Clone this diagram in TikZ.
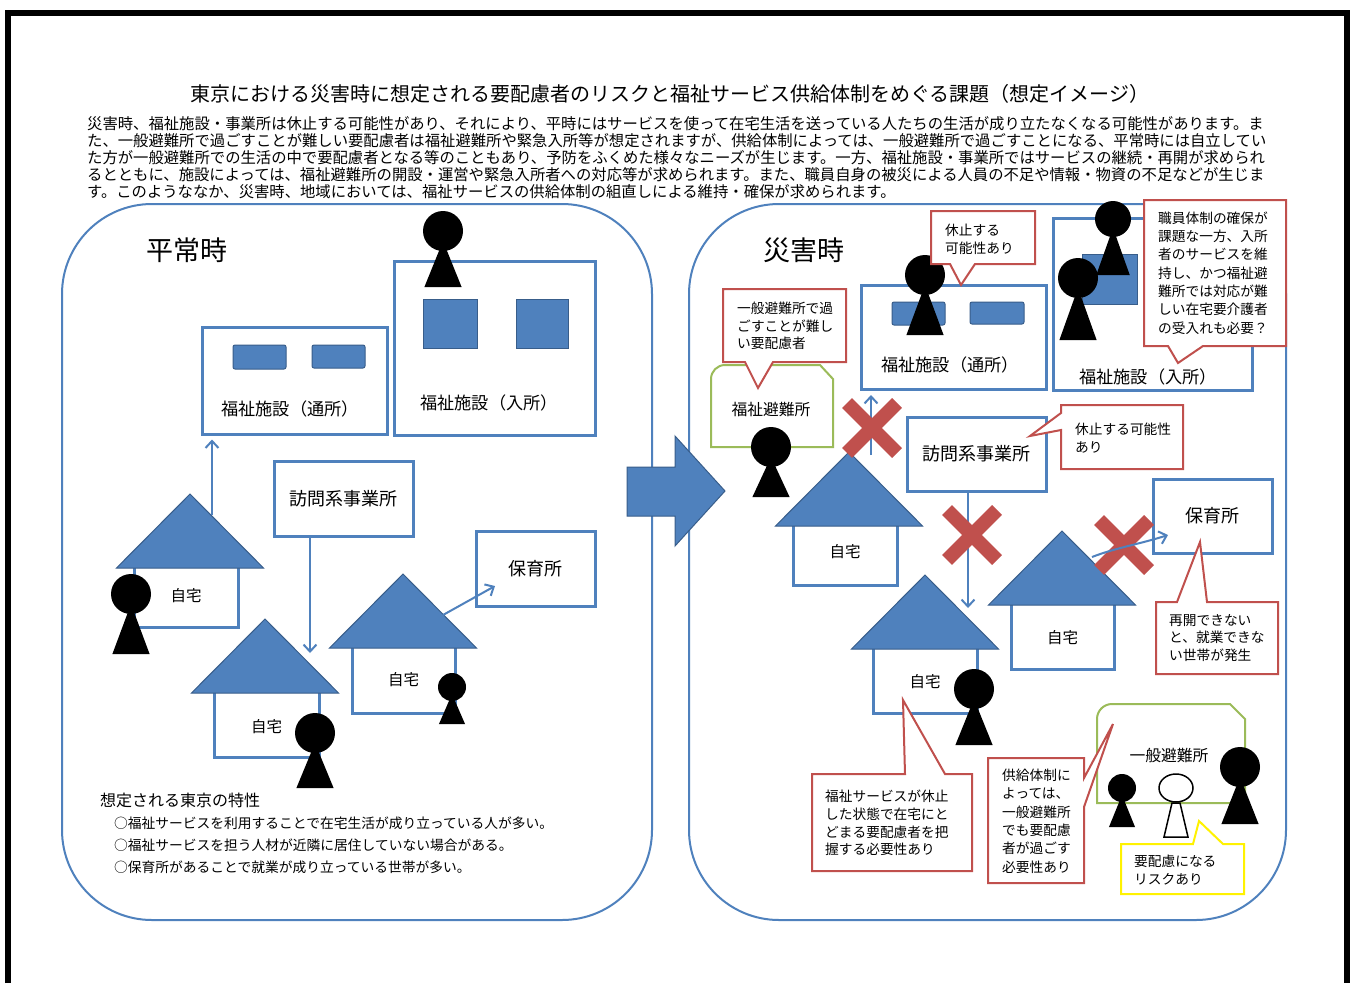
\documentclass[tikz,border=0pt]{standalone}
\usepackage{fontspec}
\usetikzlibrary{arrows.meta}
\setmainfont{Noto Sans CJK JP}
\definecolor{paneblue}{HTML}{4F81BD}
\definecolor{roofline}{HTML}{385D8A}
\definecolor{callred}{HTML}{C0504D}
\definecolor{shelgreen}{HTML}{9BBB59}
\tikzset{
	pane/.style={draw=paneblue,line width=2,fill=white,rounded corners=90},
	bluebox/.style={draw=paneblue,line width=3,fill=white,inner sep=0},
	homebox/.style={draw=paneblue,line width=3,fill=white},
	roof/.style={draw=roofline,line width=1,fill=paneblue},
	block/.style={draw=roofline,line width=1,fill=paneblue},
	redcall/.style={draw=callred,line width=2,fill=white,line join=miter},
	yelcall/.style={draw=yellow,line width=2,fill=white},
	shelter/.style={draw=shelgreen,line width=2,fill=white},
	flow/.style={-{Straight Barb[length=7,width=13]},draw=paneblue,line width=2},
	crossmark/.style={draw=callred,line width=14},
	boxtext/.style={inner sep=0,font=\fontsize{17.2}{20}\selectfont},
	hometext/.style={inner sep=0,font=\fontsize{15.5}{18}\selectfont},
	calltext/.style={inner sep=0,anchor=west,align=left,font=\fontsize{13.7}{17.8}\selectfont},
	headtext/.style={inner sep=0,font=\fontsize{27}{30}\selectfont},
}
\newcommand{\person}[4]{
	\fill (#1,#2) circle (#3);
	\fill[line join=round] (#1,#2+0.5*#3) -- (#1-0.93*#3,#4) -- (#1+0.93*#3,#4) -- cycle;
}
\newcommand{\home}[7]{
	\draw[homebox] (#4,#3+70) rectangle (#5,#6);
	\draw[roof] (#2,#3) -- (#2-73.5,#3+74) -- (#2+73.5,#3+74) -- cycle;
	\node[hometext] (#1) at ({(#4+#5)/2},#7) {自宅};
}
\newcommand{\crossat}[2]{
	\draw[crossmark] (#1-25,#2-25) -- (#1+25,#2+25);
	\draw[crossmark] (#1+25,#2-25) -- (#1-25,#2+25);
}
\newcommand{\boxlabel}[1]{\raisebox{-1pt}{#1}}
\begin{document}
\begin{tikzpicture}[x=1pt,y=-1pt]
	\useasboundingbox (0,0) rectangle (1352,983);
	\draw[line width=6] (8,983) -- (8,13) -- (1347,13) -- (1347,983);
	\node[inner sep=0,anchor=west,font=\fontsize{20}{22}\selectfont] (title) at (190,94) {東京における災害時に想定される要配慮者のリスクと福祉サービス供給体制をめぐる課題（想定イメージ）};
	\node[inner sep=0,anchor=west,align=left,font=\fontsize{15.34}{17}\selectfont] (intro) at (87,158) {災害時、福祉施設・事業所は休止する可能性があり、それにより、平時にはサービスを使って在宅生活を送っている人たちの生活が成り立たなくなる可能性があります。ま\\た、一般避難所で過ごすことが難しい要配慮者は福祉避難所や緊急入所等が想定されますが、供給体制によっては、一般避難所で過ごすことになる、平常時には自立してい\\た方が一般避難所での生活の中で要配慮者となる等のこともあり、予防をふくめた様々なニーズが生じます。一方、福祉施設・事業所ではサービスの継続・再開が求められ\\るとともに、施設によっては、福祉避難所の開設・運営や緊急入所者への対応等が求められます。また、職員自身の被災による人員の不足や情報・物資の不足などが生じま\\す。このようななか、災害時、地域においては、福祉サービスの供給体制の組直しによる維持・確保が求められます。};
	\draw[pane] (62,204) rectangle (652,920);
	\draw[pane] (689,204) rectangle (1286,920);
	\node[headtext] (heijo) at (187,250) {平常時};
	\node[headtext] (saigai) at (804,250) {災害時};
	\node[bluebox,minimum width=185,minimum height=107] (tsushoL) at (294.5,380.5) {};
	\node[boxtext] (tsushoLtext) at (290,409) {福祉施設（通所）};
	\draw[block,rounded corners=2] (233,345) rectangle (286,369);
	\draw[block,rounded corners=2] (312,345) rectangle (365,368);
	\node[bluebox,minimum width=201,minimum height=174] (nyushoL) at (494.5,348) {};
	\node[boxtext] (nyushoLtext) at (489,403) {福祉施設（入所）};
	\draw[block] (423,299) rectangle (477,348);
	\draw[block] (516,299) rectangle (568,348);
	\person{443}{231}{20}{287}
	\node[bluebox,minimum width=139,minimum height=75,font=\fontsize{18}{20}\selectfont] (houmonL) at (343.5,498.5) {\boxlabel{訪問系事業所}};
	\node[bluebox,minimum width=119,minimum height=75,font=\fontsize{18}{20}\selectfont] (hoikuL) at (535.5,568.5) {\boxlabel{保育所}};
	\home{homeLa}{190}{494}{134}{238}{627}{596}
	\home{homeLb}{265}{619}{214}{319}{757}{727}
	\home{homeLc}{403}{574}{352}{455}{713}{680}
	\person{131}{594}{20}{654}
	\person{315}{733}{20}{788}
	\person{452}{687}{14}{724}
	\coordinate (fromA) at (212,515);
	\coordinate (toB) at (310,653);
	\coordinate (fromC) at (443,615);
	\coordinate (toC) at (495,586);
	\draw[flow,shorten >=4] (fromA) -- (tsushoL.south -| fromA);
	\draw[flow] (houmonL.south -| toB) -- (toB);
	\draw[flow] (fromC) -- (toC);
	\node[inner sep=0,anchor=west,font=\fontsize{16}{18}\selectfont] (tokusei) at (100,800) {想定される東京の特性};
	\node[inner sep=0,anchor=west,align=left,font=\fontsize{13.75}{22}\selectfont] (tokuseilist) at (114,845) {○福祉サービスを利用することで在宅生活が成り立っている人が多い。\\○福祉サービスを担う人材が近隣に居住していない場合がある。\\○保育所があることで就業が成り立っている世帯が多い。};
	\draw[block] (627,467) -- (675,467) -- (675,436) -- (725,491) -- (675,546) -- (675,516) -- (627,516) -- cycle;
	\draw[shelter] (711,447) [rounded corners=14] -- (711,365) [sharp corners] -- (820,365) -- (833,379) -- (833,447) -- cycle;
	\node[inner sep=0,font=\fontsize{15.8}{18}\selectfont] (fukushihinan) at (771,410) {福祉避難所};
	\person{771}{447}{20}{497}
	\coordinate (fromD) at (871,455);
	\draw[flow,shorten >=4] (fromD) -- (871,391);
	\home{homeRa}{849}{452}{793}{897}{585}{552}
	\node[bluebox,minimum width=185,minimum height=104] (tsushoR) at (953.5,337) {};
	\node[boxtext] (tsushoRtext) at (950,365) {福祉施設（通所）};
	\draw[block,rounded corners=2] (892,302) rectangle (945,325);
	\draw[block,rounded corners=2] (970,302) rectangle (1024,324);
	\person{925}{275}{20}{335}
	\draw[redcall] (931,211) -- (1035,211) -- (1035,264) -- (975,264) -- (961,285) -- (950,264) -- (931,264) -- cycle;
	\node[calltext] (kyushiA) at (945,239) {休止する\\可能性あり};
	\draw[redcall] (723,289) -- (846,289) -- (846,362) -- (773,362) -- (758,388) -- (745,362) -- (723,362) -- cycle;
	\node[calltext] (hinanhard) at (737,326) {一般避難所で過\\ごすことが難し\\い要配慮者};
	\node[bluebox,minimum width=199,minimum height=172] (nyushoR) at (1152.5,304) {};
	\node[boxtext] (nyushoRtext) at (1148,377) {福祉施設（入所）};
	\draw[block] (1082,254) rectangle (1137,304);
	\person{1113}{219}{18}{275}
	\person{1078}{278}{20}{340}
	\draw[redcall] (1144,200) -- (1286,200) -- (1286,346) -- (1203,346) -- (1178,363) -- (1168,346) -- (1144,346) -- cycle;
	\node[calltext,font=\fontsize{13.7}{18.3}\selectfont] (shokuin) at (1158,273) {職員体制の確保が\\課題な一方、入所\\者のサービスを維\\持し、かつ福祉避\\難所では対応が難\\しい在宅要介護者\\の受入れも必要？};
	\node[bluebox,minimum width=139,minimum height=74,font=\fontsize{18}{20}\selectfont] (houmonR) at (976.5,454) {\boxlabel{訪問系事業所}};
	\draw[redcall] (1061,405) -- (1183,405) -- (1183,469) -- (1061,469) -- (1061,430) -- (1030,436) -- (1061,413) -- cycle;
	\node[calltext] (kyushiB) at (1075,438) {休止する可能性\\あり};
	\home{homeRb}{1062}{531}{1011}{1114}{669}{638}
	\node[bluebox,minimum width=119,minimum height=74,font=\fontsize{18}{20}\selectfont] (hoikuR) at (1212.5,516) {\boxlabel{保育所}};
	\coordinate (fromE) at (1092,557);
	\coordinate (toE) at (1168,535);
	\coordinate (toF) at (968,608);
	\draw[flow] (houmonR.south -| toF) -- (toF);
	\home{homeRc}{925}{575}{873}{977}{713}{682}
	\person{974}{689}{20}{745}
	\draw[redcall] (1156,602) -- (1177,602) -- (1200,542) -- (1207,602) -- (1278,602) -- (1278,674) -- (1156,674) -- cycle;
	\node[calltext] (saikai) at (1169,638) {再開できない\\と、就業できな\\い世帯が発生};
	\crossat{872}{428}
	\crossat{972}{535}
	\crossat{1124}{545}
	\draw[flow] (fromE) .. controls (1115,548) and (1140,544) .. (toE);
	\draw[redcall] (812,774) -- (905,774) -- (903,700) -- (945,774) -- (972,774) -- (972,871) -- (812,871) -- cycle;
	\node[calltext] (haaku) at (825,823) {福祉サービスが休止\\した状態で在宅にと\\どまる要配慮者を把\\握する必要性あり};
	\draw[shelter] (1097,803) [rounded corners=15] -- (1097,704) [sharp corners] -- (1230,704) -- (1245,719) -- (1245,803) -- cycle;
	\node[inner sep=0,font=\fontsize{15.8}{18}\selectfont] (ippanhinan) at (1169,756) {一般避難所};
	\draw[redcall] (988,758) -- (1084,758) -- (1084,778) -- (1113,724) -- (1084,807) -- (1084,883) -- (988,883) -- cycle;
	\node[calltext,font=\fontsize{13.7}{18.4}\selectfont] (kyokyu) at (1002,821) {供給体制に\\よっては、\\一般避難所\\でも要配慮\\者が過ごす\\必要性あり};
	\person{1122}{788}{14}{827}
	\person{1240}{767}{20}{824}
	\draw[line width=1.5,fill=white] (1176,788) ellipse (17 and 14);
	\draw[line width=1.5,fill=white] (1172,803) -- (1180,803) -- (1188,837) -- (1164,837) -- cycle;
	\draw[yelcall] (1121,844) -- (1193,844) -- (1199,821) -- (1223,844) -- (1244,844) -- (1244,894) -- (1121,894) -- cycle;
	\node[calltext] (risk) at (1134,870) {要配慮になる\\リスクあり};
\end{tikzpicture}
\end{document}
